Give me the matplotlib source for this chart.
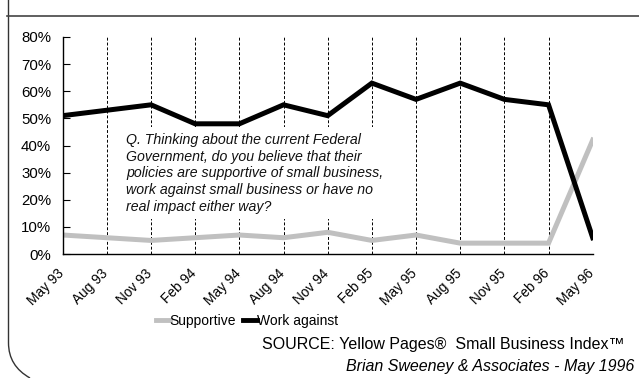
import matplotlib
matplotlib.use("Agg")
import matplotlib.pyplot as plt
import matplotlib.transforms as mtransforms
from matplotlib.path import Path
from matplotlib.patches import PathPatch
from matplotlib.lines import Line2D

plt.rcParams['font.family'] = ['Liberation Sans', 'DejaVu Sans']

periods = ["May 93", "Aug 93", "Nov 93", "Feb 94", "May 94", "Aug 94", "Nov 94",
           "Feb 95", "May 95", "Aug 95", "Nov 95", "Feb 96", "May 96"]
supportive = [7, 6, 5, 6, 7, 6, 8, 5, 7, 4, 4, 4, 42]
work_against = [51, 53, 55, 48, 48, 55, 51, 63, 57, 63, 57, 55, 6]
y_ticks = [0, 10, 20, 30, 40, 50, 60, 70, 80]
y_tick_labels = [f"{v}%" for v in y_ticks]

W, H = 639, 378
fig = plt.figure(figsize=(W / 100, H / 100), dpi=100)

def fx(x):
    return x / W

def fy(y):
    return 1 - y / H

# Axes placement
left, right, top, bottom = 62.7, 592.7, 37, 254
ax = fig.add_axes([fx(left), fy(bottom), fx(right) - fx(left), (bottom - top) / H])

x = list(range(len(periods)))

# dashed vertical grid lines
ax.vlines(x, 0, 80, colors='black', linestyles=(0, (3, 2)), linewidth=0.7, zorder=1)

ax.plot(x, supportive, color='#c0c0c0', linewidth=3.6, solid_joinstyle='miter', zorder=3)
ax.plot(x, work_against, color='black', linewidth=3.6, solid_joinstyle='miter', zorder=4)

ax.set_xlim(0, len(periods) - 1)
ax.set_ylim(0, 80)
ax.set_yticks(y_ticks)
ax.set_yticklabels(y_tick_labels, fontsize=10.8)
ax.tick_params(axis='y', direction='in', length=5, width=0.8, pad=8.4)
ax.set_xticks(x)
ax.set_xticklabels(periods, rotation=45, ha='right', va='top', fontsize=9.8)
ax.tick_params(axis='x', length=0, pad=9)
offset = mtransforms.ScaledTranslation(4 / 100, 0, fig.dpi_scale_trans)
for lbl in ax.get_xticklabels():
    lbl.set_transform(lbl.get_transform() + offset)

for s in ['top', 'right']:
    ax.spines[s].set_visible(False)
ax.spines['left'].set_linewidth(1.0)
ax.spines['bottom'].set_linewidth(1.0)
ax.spines['left'].set_zorder(5)
ax.spines['bottom'].set_zorder(5)

# question text box
q = ("Q. Thinking about the current Federal\n"
     "Government, do you believe that their\n"
     "policies are supportive of small business,\n"
     "work against small business or have no\n"
     "real impact either way?")
fig.text(fx(126), fy(133), q, fontsize=10.2, style='italic', ha='left', va='top',
         linespacing=1.24, color='#111111', zorder=2.5,
         bbox=dict(facecolor='white', edgecolor='none', pad=4))

# legend
handles = [Line2D([], [], color='#c0c0c0', linewidth=3.5),
           Line2D([], [], color='black', linewidth=3.5)]
fig.legend(handles, ["Supportive", "Work against"], loc='center',
           bbox_to_anchor=(fx(247), fy(321)), ncol=2, frameon=False,
           handlelength=1.0, handletextpad=0.0, columnspacing=0.5,
           fontsize=10, borderpad=0)

# source text
fig.text(fx(625), fy(345), "SOURCE: Yellow Pages\u00ae  Small Business Index\u2122",
         fontsize=11.5, ha='right', va='center')
fig.text(fx(634), fy(366), "Brian Sweeney & Associates - May 1996",
         fontsize=11.5, ha='right', va='center', style='italic')

# frame lines
fig.add_artist(Line2D([fx(7), fx(639)], [fy(16), fy(16)], color='#444444', linewidth=1.2))
verts = [(fx(8.5), fy(0)), (fx(8.5), fy(343)), (fx(8.5), fy(343)),
         (fx(8.5), fy(366)), (fx(30), fy(378))]
codes = [Path.MOVETO, Path.LINETO, Path.MOVETO, Path.CURVE3, Path.CURVE3]
fig.add_artist(PathPatch(Path(verts, codes), facecolor='none', edgecolor='#333333',
                         linewidth=1.0, transform=fig.transFigure))

fig.savefig("out.png", dpi=100)
